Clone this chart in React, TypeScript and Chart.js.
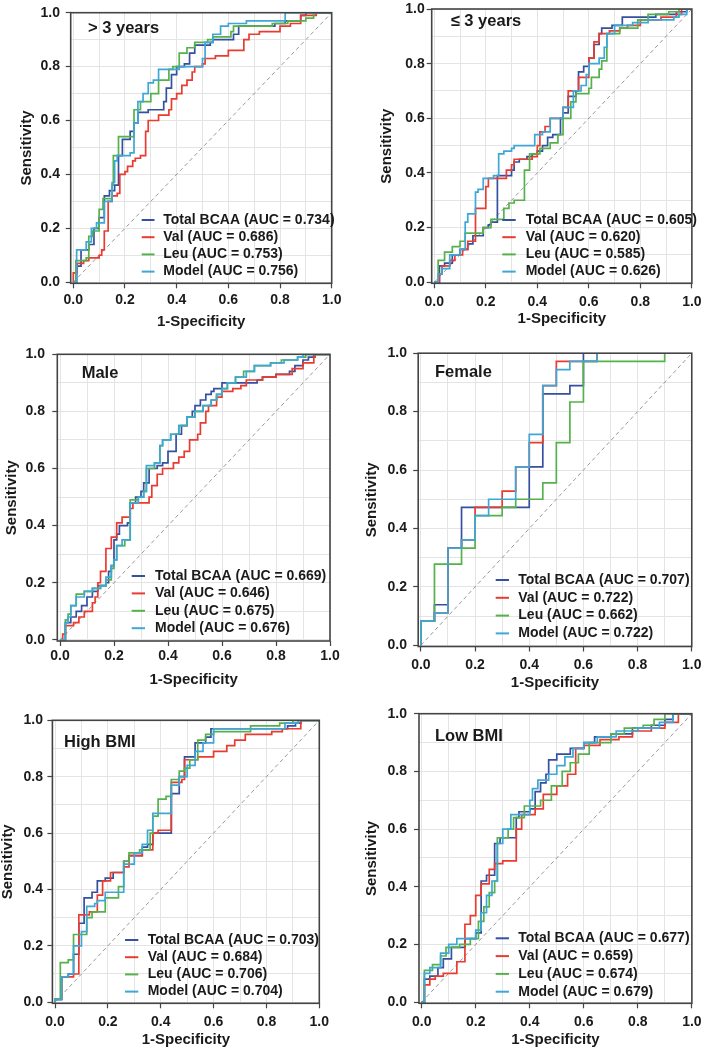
import React, { useEffect, useRef } from 'react';
import { Chart, registerables } from 'chart.js';

Chart.register(...registerables);

type Pt = [number, number];

// ---------- data ----------
const SERIES_NAMES = ['Total BCAA', 'Val', 'Leu', 'Model'];
const PANEL_TITLES = ['> 3 years', '≤ 3 years', 'Male', 'Female', 'High BMI', 'Low BMI'];
const TICK_VALUES = [0, 0.1, 0.2, 0.3, 0.4, 0.5, 0.6, 0.7, 0.8, 0.9, 1.0];
const X_TITLE = '1-Specificity';
const Y_TITLE = 'Sensitivity';

const AUC_GT3 = [0.734, 0.686, 0.753, 0.756];
const AUC_LE3 = [0.605, 0.62, 0.585, 0.626];
const AUC_MALE = [0.669, 0.646, 0.675, 0.676];
const AUC_FEMALE = [0.707, 0.722, 0.662, 0.722];
const AUC_HIGH = [0.703, 0.684, 0.706, 0.704];
const AUC_LOW = [0.677, 0.659, 0.674, 0.679];

// each pair: [1-specificity where the curve rises, sensitivity after the rise]
const GT3_TOTAL: Pt[] = [[0,0],[0.013,0.06],[0.03,0.12],[0.06,0.14],[0.08,0.2],[0.1,0.24],[0.12,0.32],[0.14,0.34],[0.16,0.36],[0.175,0.47],[0.19,0.53],[0.22,0.56],[0.235,0.59],[0.25,0.63],[0.29,0.64],[0.35,0.67],[0.36,0.72],[0.38,0.77],[0.4,0.8],[0.43,0.81],[0.45,0.85],[0.47,0.88],[0.53,0.89],[0.54,0.9],[0.62,0.92],[0.64,0.95],[0.78,0.96],[0.82,0.97],[0.88,0.99],[0.9,1.0],[1,1]];
const GT3_VAL: Pt[] = [[0,0],[0,0.035],[0.015,0.07],[0.04,0.08],[0.06,0.09],[0.1,0.1],[0.11,0.12],[0.12,0.19],[0.135,0.3],[0.15,0.32],[0.17,0.33],[0.18,0.4],[0.2,0.41],[0.21,0.43],[0.23,0.45],[0.24,0.46],[0.26,0.47],[0.28,0.56],[0.29,0.6],[0.33,0.62],[0.37,0.64],[0.38,0.68],[0.4,0.7],[0.42,0.73],[0.44,0.75],[0.46,0.78],[0.47,0.8],[0.5,0.81],[0.51,0.83],[0.55,0.84],[0.6,0.86],[0.66,0.9],[0.68,0.92],[0.72,0.93],[0.8,0.95],[0.84,0.96],[0.88,0.99],[0.94,1.0],[1,1]];
const GT3_LEU: Pt[] = [[0,0],[0.01,0.08],[0.05,0.09],[0.06,0.17],[0.075,0.19],[0.1,0.27],[0.115,0.31],[0.15,0.36],[0.155,0.47],[0.175,0.54],[0.235,0.64],[0.26,0.67],[0.3,0.7],[0.33,0.75],[0.37,0.79],[0.385,0.8],[0.41,0.85],[0.44,0.87],[0.47,0.89],[0.52,0.9],[0.54,0.91],[0.61,0.93],[0.62,0.95],[0.77,0.96],[0.83,0.97],[0.9,0.98],[0.93,1.0],[1,1]];
const GT3_MODEL: Pt[] = [[0,0],[0.013,0.12],[0.05,0.15],[0.07,0.2],[0.09,0.22],[0.12,0.3],[0.15,0.37],[0.16,0.45],[0.17,0.47],[0.22,0.48],[0.235,0.59],[0.25,0.67],[0.27,0.7],[0.29,0.74],[0.31,0.75],[0.33,0.79],[0.41,0.8],[0.5,0.83],[0.51,0.89],[0.54,0.92],[0.57,0.95],[0.6,0.96],[0.67,0.97],[0.82,1.0],[1,1]];

const LE3_TOTAL: Pt[] = [[0,0],[0.02,0.06],[0.04,0.07],[0.07,0.1],[0.1,0.12],[0.13,0.14],[0.15,0.17],[0.19,0.2],[0.21,0.21],[0.22,0.22],[0.245,0.24],[0.245,0.39],[0.3,0.41],[0.31,0.44],[0.33,0.45],[0.36,0.46],[0.38,0.47],[0.4,0.48],[0.42,0.5],[0.44,0.53],[0.46,0.54],[0.49,0.6],[0.5,0.62],[0.52,0.68],[0.55,0.7],[0.56,0.77],[0.58,0.79],[0.6,0.82],[0.62,0.87],[0.64,0.91],[0.65,0.93],[0.69,0.94],[0.73,0.97],[0.86,0.98],[0.94,0.99],[0.98,1.0],[1,1]];
const LE3_VAL: Pt[] = [[0,0],[0.02,0.03],[0.03,0.06],[0.06,0.08],[0.08,0.1],[0.11,0.12],[0.13,0.15],[0.16,0.27],[0.2,0.35],[0.21,0.38],[0.28,0.41],[0.3,0.43],[0.31,0.45],[0.38,0.46],[0.4,0.5],[0.41,0.55],[0.43,0.57],[0.45,0.6],[0.5,0.64],[0.52,0.7],[0.56,0.75],[0.6,0.82],[0.62,0.88],[0.64,0.91],[0.68,0.92],[0.72,0.93],[0.75,0.94],[0.8,0.96],[0.88,0.97],[0.94,0.98],[0.96,1.0],[1,1]];
const LE3_LEU: Pt[] = [[0,0],[0.015,0.08],[0.04,0.11],[0.07,0.13],[0.1,0.15],[0.12,0.18],[0.19,0.2],[0.22,0.23],[0.27,0.27],[0.29,0.29],[0.31,0.3],[0.35,0.41],[0.37,0.47],[0.41,0.49],[0.45,0.51],[0.48,0.54],[0.5,0.6],[0.53,0.66],[0.55,0.69],[0.6,0.71],[0.61,0.75],[0.64,0.78],[0.65,0.81],[0.67,0.91],[0.72,0.93],[0.79,0.96],[0.83,0.98],[0.91,0.99],[0.95,1.0],[1,1]];
const LE3_MODEL: Pt[] = [[0,0],[0.015,0.03],[0.03,0.05],[0.06,0.1],[0.1,0.12],[0.12,0.22],[0.13,0.25],[0.16,0.33],[0.17,0.34],[0.19,0.38],[0.23,0.39],[0.25,0.47],[0.27,0.48],[0.3,0.49],[0.31,0.5],[0.39,0.54],[0.42,0.55],[0.45,0.6],[0.5,0.64],[0.54,0.7],[0.57,0.72],[0.59,0.76],[0.6,0.8],[0.64,0.82],[0.66,0.86],[0.67,0.91],[0.7,0.94],[0.77,0.95],[0.83,0.96],[0.93,0.97],[0.95,0.98],[0.98,1.0],[1,1]];

const MALE_TOTAL: Pt[] = [[0,0],[0.02,0.06],[0.04,0.08],[0.06,0.1],[0.08,0.12],[0.1,0.15],[0.12,0.17],[0.14,0.19],[0.17,0.2],[0.18,0.24],[0.19,0.26],[0.2,0.35],[0.21,0.37],[0.22,0.4],[0.25,0.41],[0.26,0.48],[0.28,0.5],[0.3,0.52],[0.31,0.55],[0.33,0.6],[0.36,0.61],[0.38,0.62],[0.4,0.66],[0.43,0.72],[0.45,0.75],[0.47,0.78],[0.49,0.8],[0.5,0.82],[0.52,0.84],[0.54,0.86],[0.56,0.87],[0.57,0.88],[0.6,0.9],[0.73,0.91],[0.75,0.92],[0.8,0.93],[0.85,0.94],[0.87,0.96],[0.9,0.98],[0.92,0.99],[0.94,1.0],[1,1]];
const MALE_VAL: Pt[] = [[0,0],[0.01,0.02],[0.02,0.05],[0.05,0.06],[0.07,0.08],[0.09,0.1],[0.12,0.13],[0.13,0.15],[0.14,0.2],[0.15,0.24],[0.17,0.32],[0.19,0.36],[0.21,0.41],[0.23,0.43],[0.26,0.46],[0.27,0.48],[0.33,0.5],[0.34,0.54],[0.36,0.58],[0.38,0.6],[0.42,0.62],[0.44,0.64],[0.46,0.66],[0.48,0.7],[0.51,0.72],[0.52,0.76],[0.54,0.8],[0.55,0.82],[0.58,0.85],[0.6,0.87],[0.64,0.88],[0.67,0.89],[0.69,0.91],[0.75,0.92],[0.8,0.93],[0.86,0.95],[0.9,0.97],[0.94,0.99],[0.945,1.0],[1,1]];
const MALE_LEU: Pt[] = [[0,0],[0.02,0.07],[0.03,0.09],[0.04,0.12],[0.06,0.16],[0.09,0.17],[0.12,0.18],[0.15,0.19],[0.17,0.21],[0.19,0.25],[0.2,0.28],[0.21,0.33],[0.24,0.35],[0.26,0.49],[0.29,0.5],[0.31,0.52],[0.32,0.6],[0.35,0.62],[0.37,0.68],[0.38,0.7],[0.41,0.72],[0.44,0.75],[0.47,0.78],[0.5,0.8],[0.53,0.82],[0.56,0.84],[0.58,0.86],[0.6,0.88],[0.62,0.9],[0.65,0.92],[0.68,0.94],[0.72,0.96],[0.78,0.97],[0.82,0.98],[0.88,0.99],[0.91,1.0],[1,1]];
const MALE_MODEL: Pt[] = [[0,0],[0.02,0.06],[0.03,0.08],[0.04,0.12],[0.06,0.15],[0.09,0.17],[0.12,0.18],[0.15,0.19],[0.17,0.22],[0.19,0.26],[0.2,0.28],[0.21,0.33],[0.23,0.35],[0.26,0.48],[0.29,0.5],[0.31,0.52],[0.32,0.61],[0.35,0.62],[0.37,0.68],[0.38,0.7],[0.41,0.72],[0.44,0.75],[0.47,0.78],[0.5,0.8],[0.53,0.82],[0.56,0.84],[0.58,0.86],[0.6,0.88],[0.62,0.9],[0.65,0.92],[0.69,0.94],[0.72,0.96],[0.78,0.97],[0.83,0.98],[0.88,0.99],[0.9,1.0],[1,1]];

const FEMALE_TOTAL: Pt[] = [[0,0],[0,0.083],[0.05,0.139],[0.1,0.333],[0.15,0.472],[0.4,0.611],[0.45,0.861],[0.55,0.889],[0.6,1.0],[1,1]];
const FEMALE_VAL: Pt[] = [[0,0],[0,0.083],[0.05,0.111],[0.1,0.333],[0.15,0.361],[0.2,0.472],[0.3,0.528],[0.35,0.611],[0.4,0.694],[0.45,0.889],[0.5,0.972],[0.65,1.0],[1,1]];
const FEMALE_LEU: Pt[] = [[0,0],[0,0.083],[0.05,0.278],[0.15,0.333],[0.2,0.444],[0.3,0.472],[0.35,0.5],[0.45,0.556],[0.5,0.694],[0.55,0.833],[0.6,0.972],[0.9,1.0],[1,1]];
const FEMALE_MODEL: Pt[] = [[0,0],[0,0.083],[0.05,0.111],[0.1,0.333],[0.15,0.361],[0.2,0.444],[0.25,0.5],[0.35,0.611],[0.4,0.722],[0.45,0.889],[0.5,0.944],[0.55,0.972],[0.65,1.0],[1,1]];

const HIGH_TOTAL: Pt[] = [[0,0],[0,0.01],[0.025,0.09],[0.05,0.1],[0.07,0.17],[0.09,0.28],[0.11,0.37],[0.14,0.39],[0.16,0.43],[0.19,0.44],[0.22,0.46],[0.26,0.5],[0.28,0.52],[0.33,0.55],[0.35,0.56],[0.37,0.6],[0.44,0.74],[0.47,0.8],[0.49,0.87],[0.53,0.92],[0.57,0.94],[0.59,0.97],[0.88,0.98],[0.91,0.99],[0.93,1.0],[1,1]];
const HIGH_VAL: Pt[] = [[0,0],[0,0.01],[0.025,0.09],[0.07,0.1],[0.09,0.31],[0.13,0.32],[0.16,0.38],[0.18,0.43],[0.21,0.46],[0.26,0.48],[0.28,0.52],[0.33,0.54],[0.37,0.6],[0.39,0.61],[0.44,0.78],[0.48,0.79],[0.49,0.86],[0.54,0.87],[0.6,0.89],[0.65,0.91],[0.68,0.93],[0.72,0.95],[0.82,0.96],[0.86,0.97],[0.93,1.0],[1,1]];
const HIGH_LEU: Pt[] = [[0,0],[0,0.01],[0.02,0.14],[0.05,0.15],[0.07,0.24],[0.12,0.3],[0.14,0.32],[0.19,0.37],[0.24,0.41],[0.26,0.5],[0.28,0.53],[0.32,0.54],[0.36,0.6],[0.37,0.66],[0.39,0.72],[0.42,0.73],[0.44,0.79],[0.47,0.82],[0.49,0.83],[0.51,0.86],[0.54,0.93],[0.57,0.95],[0.6,0.96],[0.74,0.98],[0.85,0.99],[0.9,1.0],[1,1]];
const HIGH_MODEL: Pt[] = [[0,0],[0,0.01],[0.025,0.09],[0.05,0.1],[0.07,0.2],[0.1,0.25],[0.12,0.34],[0.15,0.35],[0.16,0.36],[0.19,0.39],[0.26,0.49],[0.3,0.53],[0.33,0.56],[0.35,0.61],[0.37,0.67],[0.44,0.77],[0.47,0.8],[0.5,0.84],[0.53,0.89],[0.56,0.92],[0.6,0.97],[0.87,0.99],[0.92,1.0],[1,1]];

const LOW_TOTAL: Pt[] = [[0,0],[0.01,0.08],[0.03,0.09],[0.06,0.12],[0.08,0.15],[0.11,0.19],[0.16,0.22],[0.2,0.24],[0.22,0.42],[0.24,0.44],[0.27,0.55],[0.29,0.57],[0.35,0.64],[0.36,0.66],[0.4,0.67],[0.42,0.73],[0.44,0.76],[0.46,0.79],[0.47,0.84],[0.5,0.86],[0.55,0.88],[0.6,0.9],[0.64,0.92],[0.7,0.93],[0.78,0.95],[0.85,0.96],[0.9,0.98],[0.93,1.0],[1,1]];
const LOW_VAL: Pt[] = [[0,0],[0.01,0.06],[0.03,0.08],[0.05,0.09],[0.08,0.1],[0.13,0.14],[0.16,0.27],[0.18,0.3],[0.2,0.37],[0.22,0.41],[0.25,0.46],[0.27,0.48],[0.3,0.49],[0.35,0.6],[0.37,0.65],[0.42,0.67],[0.45,0.72],[0.5,0.75],[0.54,0.79],[0.57,0.88],[0.6,0.89],[0.66,0.91],[0.73,0.92],[0.78,0.94],[0.85,0.95],[0.9,0.97],[0.95,1.0],[1,1]];
const LOW_LEU: Pt[] = [[0,0],[0.01,0.11],[0.04,0.13],[0.07,0.16],[0.09,0.19],[0.14,0.2],[0.18,0.22],[0.21,0.28],[0.23,0.33],[0.25,0.38],[0.27,0.42],[0.28,0.57],[0.32,0.6],[0.34,0.64],[0.38,0.68],[0.44,0.7],[0.48,0.75],[0.52,0.8],[0.55,0.83],[0.58,0.86],[0.62,0.9],[0.7,0.93],[0.75,0.95],[0.82,0.96],[0.86,0.98],[0.9,1.0],[1,1]];
const LOW_MODEL: Pt[] = [[0,0],[0.01,0.1],[0.03,0.12],[0.07,0.17],[0.1,0.2],[0.13,0.22],[0.2,0.25],[0.22,0.31],[0.24,0.37],[0.26,0.42],[0.28,0.55],[0.3,0.6],[0.33,0.65],[0.4,0.7],[0.41,0.74],[0.43,0.77],[0.47,0.79],[0.5,0.82],[0.53,0.85],[0.56,0.88],[0.6,0.9],[0.65,0.92],[0.72,0.94],[0.8,0.95],[0.88,0.97],[0.93,1.0],[1,1]];

// ---------- styles / layout ----------
const SERIES_COLORS = ['#34509f', '#ea3b30', '#55b24b', '#3fa7d6'];
const FONT = "'Liberation Sans', Arial, Helvetica, sans-serif";
const TEXT_COLOR = '#1a1a1a';
const FRAME_COLOR = '#444444';
const GRID_COLOR = '#e4e4e4';
const DIAG_COLOR = '#9a9a9a';

interface Layout {
  left: number; top: number; width: number; height: number;
  area: [number, number, number, number];
  yTitlePad: number; xTitlePad: number; yTickPad: number; xTickPad: number;
  titleAt: [number, number];
  legend: [number, number, number, number, number];
}

const LAYOUTS: Layout[] = [
  { left: 0, top: 0, width: 354, height: 340, area: [70.7, 7, 331.7, 283.3], yTitlePad: 19.5, xTitlePad: 10.5, yTickPad: 5.7, xTickPad: 4.7, titleAt: [88, 28], legend: [141.7, 154.5, 163.3, 220, 17.2] },
  { left: 354, top: 0, width: 354, height: 340, area: [77.7, 7, 338.3, 283.3], yTitlePad: 25.5, xTitlePad: 13.5, yTickPad: 2, xTickPad: 6.4, titleAt: [96.7, 21.7], legend: [148.3, 161.7, 171.7, 220, 17.2] },
  { left: 0, top: 340, width: 354, height: 350, area: [57.3, 11, 330, 301], yTitlePad: 4.5, xTitlePad: 2.5, yTickPad: 7.3, xTickPad: 3, titleAt: [81.7, 33.3], legend: [131.7, 145, 155, 236, 17.4] },
  { left: 354, top: 340, width: 354, height: 360, area: [64.2, 10, 343, 306.5], yTitlePad: 10.5, xTitlePad: 9.5, yTickPad: 6.2, xTickPad: 6.5, titleAt: [81, 32.3], legend: [141.7, 155, 164.3, 240, 17.8] },
  { left: 0, top: 690, width: 354, height: 360, area: [52.4, 30.3, 319.3, 313.3], yTitlePad: 0, xTitlePad: 2.5, yTickPad: 4.4, xTickPad: 6.4, titleAt: [64, 52.7], legend: [125, 138.3, 147.7, 250, 17.2] },
  { left: 354, top: 690, width: 354, height: 360, area: [65, 23.7, 342.3, 313.3], yTitlePad: 10.5, xTitlePad: 2.5, yTickPad: 7, xTickPad: 6.4, titleAt: [81, 46.7], legend: [141.7, 155, 164.3, 248.3, 17.8] },
];

const PANEL_CURVES: Pt[][][] = [
  [GT3_TOTAL, GT3_VAL, GT3_LEU, GT3_MODEL],
  [LE3_TOTAL, LE3_VAL, LE3_LEU, LE3_MODEL],
  [MALE_TOTAL, MALE_VAL, MALE_LEU, MALE_MODEL],
  [FEMALE_TOTAL, FEMALE_VAL, FEMALE_LEU, FEMALE_MODEL],
  [HIGH_TOTAL, HIGH_VAL, HIGH_LEU, HIGH_MODEL],
  [LOW_TOTAL, LOW_VAL, LOW_LEU, LOW_MODEL],
];
const PANEL_AUCS = [AUC_GT3, AUC_LE3, AUC_MALE, AUC_FEMALE, AUC_HIGH, AUC_LOW];

const isMajor = (v: number) => Math.round(v * 10) % 2 === 0;

function Panel({ index }: { index: number }) {
  const ref = useRef<HTMLCanvasElement>(null);
  const L = LAYOUTS[index];

  useEffect(() => {
    const canvas = ref.current;
    if (!canvas) return;
    const [al, at, ar, ab] = L.area;
    const title = PANEL_TITLES[index];
    const aucs = PANEL_AUCS[index];

    const deco = {
      id: 'deco',
      afterDraw(chart: any) {
        const ctx = chart.ctx as CanvasRenderingContext2D;
        const a = chart.chartArea;
        ctx.save();
        ctx.strokeStyle = FRAME_COLOR;
        ctx.lineWidth = 1.6;
        ctx.strokeRect(a.left, a.top, a.right - a.left, a.bottom - a.top);
        ctx.fillStyle = TEXT_COLOR;
        ctx.textAlign = 'left';
        ctx.textBaseline = 'middle';
        ctx.font = `bold 16.5px ${FONT}`;
        ctx.fillText(title, L.titleAt[0], L.titleAt[1]);
        const [lx0, lx1, tx, ly, dy] = L.legend;
        ctx.font = `bold 14px ${FONT}`;
        SERIES_NAMES.forEach((name, i) => {
          const y = ly + i * dy;
          ctx.strokeStyle = SERIES_COLORS[i];
          ctx.lineWidth = 2;
          ctx.beginPath();
          ctx.moveTo(lx0, y);
          ctx.lineTo(lx1, y);
          ctx.stroke();
          ctx.fillStyle = TEXT_COLOR;
          ctx.fillText(`${name} (AUC = ${aucs[i].toFixed(3)})`, tx, y);
        });
        ctx.restore();
      },
    };

    const axis = (isX: boolean) => ({
      type: 'linear' as const,
      min: isX ? -0.01 : -0.004,
      max: 1,
      afterBuildTicks: (s: any) => { s.ticks = TICK_VALUES.map((v) => ({ value: v })); },
      afterFit: (s: any) => { if (isX) s.height = L.height - ab; else s.width = al; },
      grid: {
        color: GRID_COLOR,
        lineWidth: 1,
        drawTicks: true,
        tickLength: 5,
        tickWidth: 1.2,
        tickColor: (c: any) => (c.tick && isMajor(c.tick.value) ? FRAME_COLOR : 'rgba(0,0,0,0)'),
      },
      border: { display: false },
      ticks: {
        autoSkip: false,
        maxRotation: 0,
        minRotation: 0,
        padding: isX ? L.xTickPad : L.yTickPad,
        color: TEXT_COLOR,
        font: { family: FONT, size: 14, weight: 'bold' as const, lineHeight: 1 },
        callback: (v: any) => (isMajor(Number(v)) ? Number(v).toFixed(1) : ''),
      },
      title: {
        display: true,
        text: isX ? X_TITLE : Y_TITLE,
        color: TEXT_COLOR,
        font: { family: FONT, size: 15, weight: 'bold' as const, lineHeight: 1 },
        padding: isX ? { top: 0, bottom: L.xTitlePad } : { top: L.yTitlePad, bottom: 0 },
      },
    });

    const curves = PANEL_CURVES[index];
    const datasets: any[] = [
      {
        data: [{ x: 0, y: 0 }, { x: 1, y: 1 }],
        borderColor: DIAG_COLOR,
        borderWidth: 1,
        borderDash: [4, 3],
        order: 10,
      },
      ...curves.map((pts, i) => ({
        label: SERIES_NAMES[i],
        data: pts.map(([x, y]) => ({ x, y })),
        borderColor: SERIES_COLORS[i],
        borderWidth: 1.7,
        stepped: 'before',
        order: 4 - i,
      })),
    ];

    const chart = new Chart(canvas, {
      type: 'line',
      data: { datasets },
      options: {
        responsive: false,
        animation: false,
        devicePixelRatio: 1,
        events: [],
        layout: { padding: { left: 0, top: at, right: L.width - ar, bottom: 0 } },
        elements: { point: { radius: 0 }, line: { tension: 0, fill: false } },
        plugins: { legend: { display: false }, tooltip: { enabled: false } },
        scales: { x: axis(true), y: axis(false) },
      } as any,
      plugins: [deco],
    });
    return () => chart.destroy();
  }, [index]);

  return (
    <canvas
      ref={ref}
      width={L.width}
      height={L.height}
      style={{ position: 'absolute', left: L.left, top: L.top, width: L.width, height: L.height }}
    />
  );
}

export default function App() {
  return (
    <div style={{ position: 'absolute', left: 0, top: 0, width: 708, height: 1050, background: '#ffffff', overflow: 'hidden' }}>
      {LAYOUTS.map((_, i) => (
        <Panel key={i} index={i} />
      ))}
    </div>
  );
}
